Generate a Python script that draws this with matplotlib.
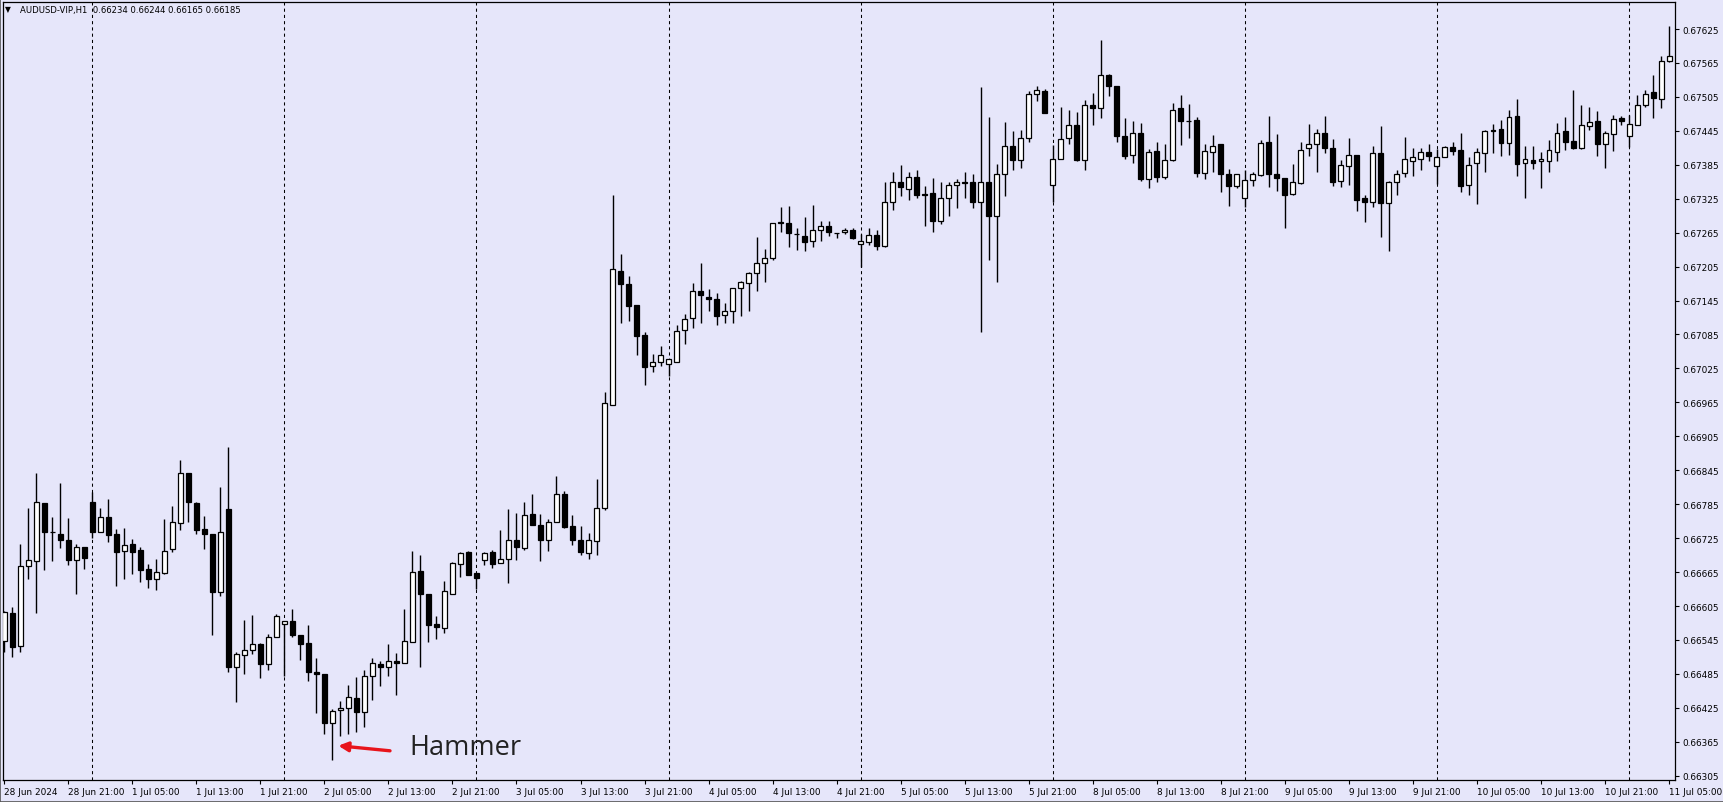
import matplotlib
matplotlib.use("Agg")
import matplotlib.pyplot as plt
import numpy as np
import pandas as pd

# ---------------- data (AUDUSD H1) ----------------
opens = [0.66543, 0.66593, 0.66534, 0.66675, 0.66684, 0.66787, 0.66736, 0.66733, 0.66722, 0.66686,
         0.66709, 0.66788, 0.66736, 0.66762, 0.66733, 0.66702, 0.66714, 0.66704, 0.66670, 0.66653,
         0.66663, 0.66705, 0.66752, 0.66840, 0.66787, 0.66741, 0.66733, 0.66630, 0.66777, 0.66497,
         0.66518, 0.66528, 0.66537, 0.66502, 0.66551, 0.66573, 0.66578, 0.66554, 0.66540, 0.66488,
         0.66484, 0.66398, 0.66421, 0.66424, 0.66442, 0.66417, 0.66482, 0.66502, 0.66498, 0.66508,
         0.66505, 0.66542, 0.66666, 0.66626, 0.66573, 0.66566, 0.66627, 0.66679, 0.66701, 0.66663,
         0.66686, 0.66700, 0.66681, 0.66688, 0.66721, 0.66707, 0.66768, 0.66748, 0.66722, 0.66753,
         0.66803, 0.66747, 0.66722, 0.66699, 0.66720, 0.66778, 0.66960, 0.67198, 0.67174, 0.67137,
         0.67084, 0.67029, 0.67036, 0.67032, 0.67036, 0.67093, 0.67114, 0.67161, 0.67152, 0.67147,
         0.67119, 0.67126, 0.67167, 0.67176, 0.67193, 0.67212, 0.67221, 0.67283, 0.67282, 0.67263,
         0.67259, 0.67250, 0.67269, 0.67277, 0.67264, 0.67266, 0.67270, 0.67245, 0.67248, 0.67261,
         0.67242, 0.67320, 0.67354, 0.67343, 0.67363, 0.67333, 0.67335, 0.67286, 0.67326, 0.67349,
         0.67354, 0.67354, 0.67319, 0.67354, 0.67295, 0.67368, 0.67419, 0.67394, 0.67432, 0.67510,
         0.67515, 0.67350, 0.67395, 0.67432, 0.67456, 0.67394, 0.67490, 0.67486, 0.67543, 0.67525,
         0.67436, 0.67403, 0.67442, 0.67360, 0.67410, 0.67364, 0.67394, 0.67485, 0.67463, 0.67464,
         0.67370, 0.67407, 0.67422, 0.67369, 0.67348, 0.67326, 0.67358, 0.67367, 0.67426, 0.67368,
         0.67361, 0.67333, 0.67353, 0.67414, 0.67421, 0.67442, 0.67414, 0.67356, 0.67383, 0.67402,
         0.67326, 0.67319, 0.67405, 0.67317, 0.67355, 0.67370, 0.67392, 0.67396, 0.67407, 0.67383,
         0.67398, 0.67417, 0.67411, 0.67349, 0.67388, 0.67405, 0.67446, 0.67448, 0.67423, 0.67472,
         0.67388, 0.67393, 0.67391, 0.67392, 0.67408, 0.67444, 0.67427, 0.67415, 0.67454, 0.67462,
         0.67422, 0.67440, 0.67468, 0.67435, 0.67456, 0.67490, 0.67513, 0.67501, 0.67569]
highs = [0.66597, 0.66604, 0.66714, 0.66779, 0.66840, 0.66787, 0.66762, 0.66822, 0.66760, 0.66715,
         0.66709, 0.66806, 0.66778, 0.66794, 0.66741, 0.66743, 0.66723, 0.66709, 0.66680, 0.66688,
         0.66759, 0.66781, 0.66863, 0.66840, 0.66789, 0.66764, 0.66733, 0.66815, 0.66886, 0.66523,
         0.66581, 0.66589, 0.66539, 0.66556, 0.66591, 0.66578, 0.66600, 0.66554, 0.66572, 0.66513,
         0.66484, 0.66423, 0.66437, 0.66465, 0.66479, 0.66492, 0.66513, 0.66507, 0.66538, 0.66522,
         0.66600, 0.66703, 0.66695, 0.66626, 0.66588, 0.66650, 0.66683, 0.66700, 0.66703, 0.66663,
         0.66701, 0.66704, 0.66739, 0.66777, 0.66769, 0.66788, 0.66803, 0.66768, 0.66759, 0.66835,
         0.66809, 0.66765, 0.66747, 0.66734, 0.66830, 0.66983, 0.67332, 0.67227, 0.67188, 0.67137,
         0.67089, 0.67051, 0.67064, 0.67042, 0.67101, 0.67121, 0.67176, 0.67211, 0.67165, 0.67158,
         0.67141, 0.67168, 0.67180, 0.67195, 0.67257, 0.67236, 0.67282, 0.67310, 0.67312, 0.67274,
         0.67292, 0.67314, 0.67285, 0.67285, 0.67265, 0.67274, 0.67273, 0.67263, 0.67273, 0.67269,
         0.67354, 0.67373, 0.67385, 0.67373, 0.67376, 0.67348, 0.67361, 0.67354, 0.67355, 0.67360,
         0.67372, 0.67369, 0.67522, 0.67469, 0.67386, 0.67460, 0.67444, 0.67446, 0.67516, 0.67524,
         0.67519, 0.67420, 0.67488, 0.67482, 0.67478, 0.67500, 0.67512, 0.67606, 0.67545, 0.67525,
         0.67467, 0.67462, 0.67458, 0.67413, 0.67426, 0.67422, 0.67494, 0.67508, 0.67492, 0.67469,
         0.67421, 0.67438, 0.67422, 0.67378, 0.67368, 0.67376, 0.67373, 0.67428, 0.67471, 0.67439,
         0.67361, 0.67386, 0.67425, 0.67457, 0.67448, 0.67471, 0.67431, 0.67393, 0.67432, 0.67402,
         0.67332, 0.67418, 0.67453, 0.67357, 0.67375, 0.67434, 0.67414, 0.67414, 0.67422, 0.67413,
         0.67418, 0.67426, 0.67441, 0.67398, 0.67415, 0.67447, 0.67457, 0.67465, 0.67481, 0.67501,
         0.67419, 0.67419, 0.67407, 0.67429, 0.67459, 0.67469, 0.67518, 0.67490, 0.67488, 0.67480,
         0.67444, 0.67473, 0.67472, 0.67473, 0.67508, 0.67517, 0.67544, 0.67578, 0.67630]
lows = [0.66523, 0.66515, 0.66523, 0.66653, 0.66593, 0.66669, 0.66685, 0.66708, 0.66678, 0.66627,
        0.66670, 0.66726, 0.66736, 0.66718, 0.66641, 0.66652, 0.66662, 0.66648, 0.66637, 0.66633,
        0.66661, 0.66701, 0.66740, 0.66753, 0.66732, 0.66705, 0.66554, 0.66622, 0.66488, 0.66435,
        0.66485, 0.66520, 0.66477, 0.66491, 0.66550, 0.66482, 0.66551, 0.66510, 0.66472, 0.66415,
        0.66379, 0.66333, 0.66376, 0.66378, 0.66382, 0.66391, 0.66439, 0.66464, 0.66482, 0.66448,
        0.66505, 0.66541, 0.66497, 0.66541, 0.66546, 0.66558, 0.66626, 0.66657, 0.66660, 0.66635,
        0.66678, 0.66672, 0.66681, 0.66645, 0.66687, 0.66704, 0.66749, 0.66684, 0.66703, 0.66753,
        0.66743, 0.66712, 0.66695, 0.66688, 0.66696, 0.66774, 0.66960, 0.67106, 0.67109, 0.67048,
        0.66995, 0.67019, 0.67030, 0.67012, 0.67036, 0.67069, 0.67096, 0.67106, 0.67126, 0.67101,
        0.67105, 0.67105, 0.67117, 0.67127, 0.67162, 0.67178, 0.67216, 0.67267, 0.67239, 0.67235,
        0.67233, 0.67239, 0.67250, 0.67259, 0.67255, 0.67263, 0.67253, 0.67204, 0.67244, 0.67235,
        0.67239, 0.67305, 0.67330, 0.67322, 0.67327, 0.67276, 0.67266, 0.67280, 0.67295, 0.67309,
        0.67327, 0.67308, 0.67089, 0.67217, 0.67178, 0.67329, 0.67375, 0.67379, 0.67425, 0.67497,
        0.67477, 0.67320, 0.67395, 0.67422, 0.67391, 0.67376, 0.67456, 0.67468, 0.67507, 0.67426,
        0.67395, 0.67388, 0.67356, 0.67344, 0.67355, 0.67360, 0.67391, 0.67420, 0.67432, 0.67363,
        0.67359, 0.67373, 0.67337, 0.67313, 0.67344, 0.67310, 0.67347, 0.67365, 0.67345, 0.67339,
        0.67273, 0.67332, 0.67351, 0.67401, 0.67372, 0.67406, 0.67348, 0.67345, 0.67350, 0.67304,
        0.67284, 0.67310, 0.67258, 0.67233, 0.67331, 0.67363, 0.67366, 0.67375, 0.67392, 0.67351,
        0.67398, 0.67402, 0.67337, 0.67332, 0.67315, 0.67373, 0.67406, 0.67401, 0.67402, 0.67366,
        0.67326, 0.67378, 0.67344, 0.67373, 0.67392, 0.67412, 0.67413, 0.67413, 0.67447, 0.67401,
        0.67379, 0.67410, 0.67456, 0.67416, 0.67456, 0.67488, 0.67467, 0.67485, 0.67566]
closes = [0.66594, 0.66533, 0.66675, 0.66686, 0.66788, 0.66736, 0.66735, 0.66721, 0.66686, 0.66709,
          0.66690, 0.66736, 0.66762, 0.66731, 0.66701, 0.66712, 0.66701, 0.66669, 0.66653, 0.66665,
          0.66703, 0.66753, 0.66840, 0.66788, 0.66740, 0.66733, 0.66630, 0.66735, 0.66498, 0.66520,
          0.66527, 0.66537, 0.66503, 0.66551, 0.66587, 0.66578, 0.66554, 0.66537, 0.66488, 0.66485,
          0.66398, 0.66419, 0.66424, 0.66444, 0.66418, 0.66482, 0.66504, 0.66498, 0.66508, 0.66504,
          0.66544, 0.66665, 0.66627, 0.66572, 0.66567, 0.66631, 0.66681, 0.66698, 0.66660, 0.66655,
          0.66698, 0.66680, 0.66688, 0.66721, 0.66709, 0.66766, 0.66749, 0.66722, 0.66753, 0.66803,
          0.66745, 0.66722, 0.66700, 0.66721, 0.66778, 0.66963, 0.67200, 0.67175, 0.67136, 0.67083,
          0.67028, 0.67036, 0.67048, 0.67042, 0.67091, 0.67113, 0.67162, 0.67155, 0.67147, 0.67118,
          0.67127, 0.67167, 0.67177, 0.67193, 0.67211, 0.67220, 0.67282, 0.67282, 0.67264, 0.67262,
          0.67248, 0.67269, 0.67277, 0.67266, 0.67264, 0.67270, 0.67255, 0.67251, 0.67260, 0.67242,
          0.67319, 0.67354, 0.67345, 0.67363, 0.67332, 0.67332, 0.67286, 0.67327, 0.67349, 0.67354,
          0.67352, 0.67319, 0.67354, 0.67295, 0.67368, 0.67418, 0.67394, 0.67432, 0.67510, 0.67517,
          0.67477, 0.67395, 0.67430, 0.67456, 0.67394, 0.67490, 0.67486, 0.67543, 0.67525, 0.67436,
          0.67401, 0.67442, 0.67360, 0.67408, 0.67364, 0.67394, 0.67482, 0.67463, 0.67462, 0.67370,
          0.67409, 0.67419, 0.67369, 0.67348, 0.67368, 0.67358, 0.67368, 0.67424, 0.67368, 0.67361,
          0.67332, 0.67354, 0.67411, 0.67421, 0.67441, 0.67415, 0.67354, 0.67385, 0.67403, 0.67323,
          0.67319, 0.67405, 0.67317, 0.67354, 0.67368, 0.67395, 0.67398, 0.67407, 0.67401, 0.67398,
          0.67416, 0.67410, 0.67347, 0.67385, 0.67407, 0.67444, 0.67445, 0.67424, 0.67470, 0.67387,
          0.67395, 0.67389, 0.67395, 0.67411, 0.67441, 0.67426, 0.67415, 0.67455, 0.67460, 0.67422,
          0.67441, 0.67466, 0.67463, 0.67457, 0.67490, 0.67511, 0.67503, 0.67569, 0.67578]

# trading sessions (server time): 28 Jun 13:00 .. 11 Jul 05:00
session_days = [("2024-06-28", 13, 23), ("2024-07-01", 0, 23), ("2024-07-02", 0, 23),
                ("2024-07-03", 0, 23), ("2024-07-04", 0, 23), ("2024-07-05", 0, 23),
                ("2024-07-08", 0, 23), ("2024-07-09", 0, 23), ("2024-07-10", 0, 23),
                ("2024-07-11", 0, 5)]
price_ticks = [0.66305, 0.66365, 0.66425, 0.66485, 0.66545, 0.66605, 0.66665, 0.66725,
               0.66785, 0.66845, 0.66905, 0.66965, 0.67025, 0.67085, 0.67145, 0.67205,
               0.67265, 0.67325, 0.67385, 0.67445, 0.67505, 0.67565, 0.67625]
header_text = "AUDUSD-VIP,H1  0.66234 0.66244 0.66165 0.66185"
annotation_text = "Hammer"
hammer_bar = 41

# ---------------- build times ----------------
times = []
for d, h0, h1 in session_days:
    for h in range(h0, h1 + 1):
        times.append(pd.Timestamp(d) + pd.Timedelta(hours=h))
n = len(opens)
x = np.arange(n)
o = np.array(opens); h = np.array(highs); l = np.array(lows); c = np.array(closes)

bg = "#E6E6FA"
W, H = 1724, 803
fig = plt.figure(figsize=(W / 100, H / 100), dpi=100, facecolor=bg)
ax = fig.add_axes([3 / W, 1 - 781 / H, (1675 - 3) / W, (781 - 2.7) / H])
ax.set_facecolor(bg)

# period separators (day starts)
for i, t in enumerate(times):
    if t.hour == 0:
        ax.axvline(i, color="black", lw=0.75, linestyle=(0, (3, 3)), zorder=1)

# wicks
ax.vlines(x, l, h, color="black", lw=1.0, zorder=2)
# bodies
up = c >= o
bottoms = np.minimum(o, c)
heights = np.abs(c - o)
ax.bar(x[up], heights[up], bottom=bottoms[up], width=0.62, facecolor="white",
       edgecolor="black", linewidth=0.9, zorder=3)
ax.bar(x[~up], heights[~up], bottom=bottoms[~up], width=0.62, facecolor="black",
       edgecolor="black", linewidth=0.9, zorder=3)

ax.set_xlim(-0.15, 208.74)
ax.set_ylim(0.662974, 0.676733)

# axes styling
for s in ax.spines.values():
    s.set_color("black")
    s.set_linewidth(0.9)
ax.yaxis.tick_right()
ax.set_yticks(price_ticks)
ax.set_yticklabels([f"{p:.5f}" for p in price_ticks])
ax.tick_params(axis="y", direction="out", length=3, width=0.8, pad=2,
               labelsize=6.4, colors="black")

tick_idx = list(range(0, n, 8))
tick_lbl = []
for k in tick_idx:
    t = times[k]
    if k == 0:
        tick_lbl.append(f"{t.day} {t.strftime('%b %Y')}")
    else:
        tick_lbl.append(f"{t.day} {t.strftime('%b %H:%M')}")
ax.set_xticks(tick_idx)
ax.set_xticklabels(tick_lbl)
ax.tick_params(axis="x", direction="out", length=3, width=0.8, pad=2,
               labelsize=6.4, colors="black")
for lab in ax.get_xticklabels():
    lab.set_horizontalalignment("left")

# header
fig.text(5 / W, 1 - 10 / H, "\u25BC", fontsize=5.5, va="center", ha="left", color="black")
fig.text(20 / W, 1 - 10 / H, header_text, fontsize=6.1, va="center", ha="left", color="black")

# hammer annotation
ax.annotate("", xy=(hammer_bar + 0.74, 0.66358), xytext=(hammer_bar + 7.2, 0.66349),
            arrowprops=dict(arrowstyle="-|>", color="#E8141B", lw=2.4,
                            mutation_scale=14, shrinkA=0, shrinkB=0), zorder=5)
ax.text(hammer_bar + 9.6, 0.66356, annotation_text, fontsize=19.5, family="Open Sans",
        color="#222222", va="center", ha="left", zorder=5)

# outer window border
fig.patches.append(plt.Rectangle((0, 0), 1, 1, transform=fig.transFigure, fill=False,
                                 edgecolor="#555555", lw=1.2))

fig.savefig("out.png", dpi=100, facecolor=bg)
